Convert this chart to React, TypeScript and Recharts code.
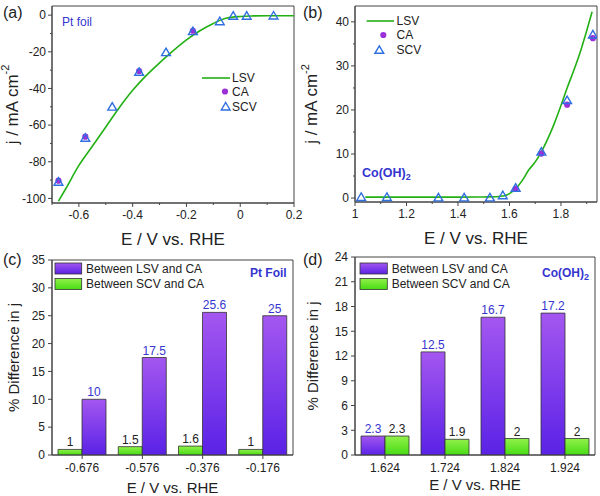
import React from 'react';
import {
  ComposedChart, Line, Scatter, XAxis, YAxis, CartesianGrid, Legend,
  BarChart, Bar, LabelList, Label,
} from 'recharts';

const FONT = '"Liberation Sans", Arial, sans-serif';
const AXIS = '#444';
const BLUE_TEXT = '#3535d0';
const LSV_GREEN = '#22b014';
const CA_PURPLE = '#9b30d9';
const SCV_BLUE = '#2f6fe0';

// (a) Pt foil, HER
const lsvPtE = [-0.676, -0.65, -0.6, -0.55, -0.5, -0.45, -0.4, -0.35, -0.3, -0.25, -0.2, -0.15, -0.1, -0.05, 0, 0.05, 0.1, 0.2];
const lsvPtJ = [-101.5, -95, -82, -71.5, -61, -50.5, -41, -33, -26, -19.5, -13.5, -8.5, -4.5, -1.6, -0.7, -0.4, -0.3, -0.3];
const scvPtE = [-0.676, -0.576, -0.476, -0.376, -0.276, -0.176, -0.076, -0.026, 0.024, 0.124];
const scvPtJ = [-91, -67, -50, -31, -20.3, -8.8, -3.4, -0.4, -0.4, -0.3];
const caPtE = [-0.676, -0.576, -0.376, -0.176];
const caPtJ = [-90.3, -66.3, -30.5, -8.5];
const ptXTicks = [-0.7, -0.6, -0.5, -0.4, -0.3, -0.2, -0.1, 0, 0.1, 0.2];
const ptXMajor = [-0.6, -0.4, -0.2, 0, 0.2];
const ptYTicks = [-100, -90, -80, -70, -60, -50, -40, -30, -20, -10, 0];
const ptYMajor = [-100, -80, -60, -40, -20, 0];

// (b) Co(OH)2, OER
const lsvCoE = [1.04, 1.1, 1.2, 1.3, 1.4, 1.5, 1.55, 1.58, 1.6, 1.624, 1.65, 1.674, 1.7, 1.724, 1.75, 1.774, 1.8, 1.824, 1.85, 1.874, 1.9, 1.921];
const lsvCoJ = [0.2, 0.2, 0.2, 0.2, 0.2, 0.25, 0.3, 0.5, 1.0, 2.1, 4, 6.3, 8.2, 10.5, 13.6, 16.9, 21, 25, 29, 33, 38, 42.3];
const scvCoE = [1.024, 1.124, 1.324, 1.424, 1.524, 1.574, 1.624, 1.724, 1.824, 1.924];
const scvCoJ = [0.2, 0.2, 0.1, 0.1, 0.1, 0.6, 2.3, 10.5, 22.2, 37.1];
const caCoE = [1.624, 1.724, 1.824, 1.924];
const caCoJ = [2.1, 10.1, 21.2, 36.3];
const coXTicks = [1, 1.1, 1.2, 1.3, 1.4, 1.5, 1.6, 1.7, 1.8, 1.9];
const coXMajor = [1, 1.2, 1.4, 1.6, 1.8];
const coYTicks = [0, 5, 10, 15, 20, 25, 30, 35, 40];
const coYMajor = [0, 10, 20, 30, 40];

// (c) % difference, Pt foil
const ptPotentials = ['-0.676', '-0.576', '-0.376', '-0.176'];
const ptLsvCa = [10, 17.5, 25.6, 25];
const ptScvCa = [1, 1.5, 1.6, 1];

// (d) % difference, Co(OH)2
const coPotentials = ['1.624', '1.724', '1.824', '1.924'];
const coLsvCa = [2.3, 12.5, 16.7, 17.2];
const coScvCa = [2.3, 1.9, 2, 2];

const pts = (xs: number[], ys: number[]) => xs.map((x, i) => ({ x, y: ys[i] }));
const isMajor = (list: number[], v: number) => list.some((m) => Math.abs(m - v) < 1e-9);

const tickStyle = { fontSize: 12, fill: '#222', fontFamily: FONT };
const TS = 4; // tick length
const XM = 3; // x tick margin
const YM = 2; // y tick margin

// bottom axis tick with major/minor marks (outward)
const xTick = (majors: number[]) => (p: any) => {
  const v = p.payload.value;
  const major = isMajor(majors, v);
  const ay = p.y - TS - XM;
  return (
    <g>
      <line x1={p.x} x2={p.x} y1={ay} y2={ay + (major ? TS : TS / 2)} stroke={AXIS} />
      {major && <text x={p.x} y={p.y} dy="0.71em" textAnchor="middle" {...tickStyle}>{String(v)}</text>}
    </g>
  );
};

// left axis tick with major/minor marks (outward)
const yTick = (majors: number[]) => (p: any) => {
  const v = p.payload.value;
  const major = isMajor(majors, v);
  const ax = p.x + TS + YM;
  return (
    <g>
      <line x1={ax} x2={ax - (major ? TS : TS / 2)} y1={p.y} y2={p.y} stroke={AXIS} />
      {major && <text x={p.x} y={p.y} dy="0.355em" textAnchor="end" {...tickStyle}>{String(v)}</text>}
    </g>
  );
};

const CaDot = (p: any) => <circle cx={p.cx} cy={p.cy} r={3.1} fill={CA_PURPLE} />;
const ScvTri = (p: any) => (
  <path
    d={`M${p.cx},${p.cy - 4.2}L${p.cx + 4.4},${p.cy + 3.3}L${p.cx - 4.4},${p.cy + 3.3}Z`}
    fill="none" stroke={SCV_BLUE} strokeWidth={1.4}
  />
);

const xTitle = (dy: number, size: number) => (props: any) => {
  const { x, y, width } = props.viewBox;
  return (
    <text x={x + width / 2} y={y + dy} textAnchor="middle" fontSize={size} fontFamily={FONT} fill="#222">
      E / V vs. RHE
    </text>
  );
};

const jTitle = (dx: number) => (props: any) => {
  const { x, y, height } = props.viewBox;
  return (
    <text transform={`translate(${x + dx},${y + height / 2}) rotate(-90)`} textAnchor="middle"
      dominantBaseline="central" fontSize={17} fontFamily={FONT} fill="#222">
      j / mA cm<tspan dy={-7} fontSize={11}>-2</tspan>
    </text>
  );
};

const pctTitle = (dx: number) => (props: any) => {
  const { x, y, height } = props.viewBox;
  return (
    <text transform={`translate(${x + dx},${y + height / 2}) rotate(-90)`} textAnchor="middle"
      dominantBaseline="central" fontSize={15} fontFamily={FONT} fill="#222">
      % Difference in j
    </text>
  );
};

const frameH = ({ offset }: any) => [offset.top, offset.top + offset.height];
const frameV = ({ offset }: any) => [offset.left, offset.left + offset.width];

// legend for the j-E panels: line, dot, triangle
const curveLegend = (lineX: number[], dotX: number, triX: number, textX: number, rows: number[]) => () => (
  <svg width={80} height={60} style={{ overflow: 'visible' }}>
    <line x1={lineX[0]} x2={lineX[1]} y1={rows[0]} y2={rows[0]} stroke={LSV_GREEN} strokeWidth={1.6} />
    <circle cx={dotX} cy={rows[1]} r={3.1} fill={CA_PURPLE} />
    <path d={`M${triX},${rows[2] - 4.2}L${triX + 4.4},${rows[2] + 3.3}L${triX - 4.4},${rows[2] + 3.3}Z`}
      fill="none" stroke={SCV_BLUE} strokeWidth={1.4} />
    {['LSV', 'CA', 'SCV'].map((t, i) => (
      <text key={t} x={textX} y={rows[i]} dominantBaseline="central" fontSize={12} fontFamily={FONT} fill="#222">{t}</text>
    ))}
  </svg>
);

const barLegend = (sw: number, textX: number, purpleId: string, greenId: string) => () => (
  <svg width={160} height={30} style={{ overflow: 'visible' }}>
    <rect x={0} y={0} width={sw} height={11} fill={`url(#${purpleId})`} stroke="#333" strokeWidth={0.8} />
    <rect x={0} y={15.5} width={sw} height={11} fill={`url(#${greenId})`} stroke="#333" strokeWidth={0.8} />
    <text x={textX} y={5.8} dominantBaseline="central" fontSize={12} fontFamily={FONT} fill="#222">Between LSV and CA</text>
    <text x={textX} y={21} dominantBaseline="central" fontSize={12} fontFamily={FONT} fill="#222">Between SCV and CA</text>
  </svg>
);

const Grads = ({ p, g }: { p: string; g: string }) => (
  <defs>
    <linearGradient id={p} x1="0" y1="0" x2="0" y2="1">
      <stop offset="0%" stopColor="#a457f0" />
      <stop offset="100%" stopColor="#5a22e6" />
    </linearGradient>
    <linearGradient id={g} x1="0" y1="0" x2="0" y2="1">
      <stop offset="0%" stopColor="#92f04a" />
      <stop offset="100%" stopColor="#46dc14" />
    </linearGradient>
  </defs>
);

const note = (left: number, top: number, size: number, bold: boolean, color: string, children: React.ReactNode) => (
  <div style={{ position: 'absolute', left, top, fontSize: size, fontWeight: bold ? 'bold' : 'normal', color, fontFamily: FONT, lineHeight: 1, whiteSpace: 'nowrap' }}>
    {children}
  </div>
);

export default function App() {
  const ptBars = ptPotentials.map((e, i) => ({ e, lsv: ptLsvCa[i], scv: ptScvCa[i] }));
  const coBars = coPotentials.map((e, i) => ({ e, lsv: coLsvCa[i], scv: coScvCa[i] }));

  return (
    <div style={{ position: 'absolute', left: 0, top: 0, width: 600, height: 496, background: '#fff', fontFamily: FONT }}>
      {/* (a) */}
      <div style={{ position: 'absolute', left: 0, top: 0 }}>
        <ComposedChart width={312} height={250} margin={{ top: 6, right: 18, left: 4, bottom: 0 }}>
          <CartesianGrid stroke={AXIS} horizontalCoordinatesGenerator={frameH} verticalCoordinatesGenerator={frameV} />
          <XAxis type="number" dataKey="x" domain={[-0.7, 0.2]} ticks={ptXTicks} allowDataOverflow
            interval={0} tick={xTick(ptXMajor)} tickLine={false} tickSize={TS} tickMargin={XM} stroke={AXIS} height={47}>
            <Label content={xTitle(41.5, 17)} />
          </XAxis>
          <YAxis type="number" dataKey="y" domain={[-102.5, 5]} ticks={ptYTicks} allowDataOverflow
            interval={0} tick={yTick(ptYMajor)} tickLine={false} tickSize={TS} tickMargin={YM} stroke={AXIS} width={48}>
            <Label content={jTitle(8)} />
          </YAxis>
          <Legend layout="horizontal" verticalAlign="middle" align="center"
            wrapperStyle={{ left: 195, top: 68, width: 80, height: 60 }}
            content={curveLegend([7, 35], 30, 30.7, 37, [10, 23.5, 38.7])} />
          <Line data={pts(lsvPtE, lsvPtJ)} dataKey="y" type="monotone" stroke={LSV_GREEN} strokeWidth={1.6} dot={false} isAnimationActive={false} />
          <Scatter data={pts(caPtE, caPtJ)} dataKey="y" shape={CaDot} isAnimationActive={false} />
          <Scatter data={pts(scvPtE, scvPtJ)} dataKey="y" shape={ScvTri} isAnimationActive={false} />
        </ComposedChart>
      </div>

      {/* (b) */}
      <div style={{ position: 'absolute', left: 300, top: 0 }}>
        <ComposedChart width={300} height={250} margin={{ top: 6, right: 3, left: 4, bottom: 0 }}>
          <CartesianGrid stroke={AXIS} horizontalCoordinatesGenerator={frameH} verticalCoordinatesGenerator={frameV} />
          <XAxis type="number" dataKey="x" domain={[1, 1.94]} ticks={coXTicks} allowDataOverflow
            interval={0} tick={xTick(coXMajor)} tickLine={false} tickSize={TS} tickMargin={XM} stroke={AXIS} height={48}>
            <Label content={xTitle(42, 17)} />
          </XAxis>
          <YAxis type="number" dataKey="y" domain={[-0.9, 43.6]} ticks={coYTicks} allowDataOverflow
            interval={0} tick={yTick(coYMajor)} tickLine={false} tickSize={TS} tickMargin={YM} stroke={AXIS} width={51}>
            <Label content={jTitle(7.7)} />
          </YAxis>
          <Legend layout="horizontal" verticalAlign="middle" align="center"
            wrapperStyle={{ left: 60, top: 10, width: 80, height: 60 }}
            content={curveLegend([6.7, 34], 23.3, 19.3, 36.5, [11, 25, 40])} />
          <Line data={pts(lsvCoE, lsvCoJ)} dataKey="y" type="monotone" stroke={LSV_GREEN} strokeWidth={1.6} dot={false} isAnimationActive={false} />
          <Scatter data={pts(caCoE, caCoJ)} dataKey="y" shape={CaDot} isAnimationActive={false} />
          <Scatter data={pts(scvCoE, scvCoJ)} dataKey="y" shape={ScvTri} isAnimationActive={false} />
        </ComposedChart>
      </div>

      {/* (c) */}
      <div style={{ position: 'absolute', left: 0, top: 250 }}>
        <BarChart width={300} height={246} data={ptBars} margin={{ top: 10, right: 7, left: 4, bottom: 0 }} barGap={0} barSize={24}>
          <Grads p="purpC" g="greenC" />
          <CartesianGrid stroke={AXIS} horizontalCoordinatesGenerator={frameH} verticalCoordinatesGenerator={frameV} />
          <XAxis dataKey="e" interval={0} tick={tickStyle} tickSize={4} tickMargin={4} stroke={AXIS} height={41}>
            <Label content={xTitle(37.5, 15)} />
          </XAxis>
          <YAxis domain={[0, 35]} ticks={[0, 5, 10, 15, 20, 25, 30, 35]} allowDataOverflow interval={0}
            tick={tickStyle} tickSize={4} tickMargin={3} stroke={AXIS} width={48}>
            <Label content={pctTitle(9)} />
          </YAxis>
          <Legend layout="horizontal" verticalAlign="middle" align="center"
            wrapperStyle={{ left: 55, top: 12.5, width: 160, height: 30 }}
            content={barLegend(26.7, 31, 'purpC', 'greenC')} />
          <Bar dataKey="scv" fill="url(#greenC)" stroke="#333" strokeWidth={0.8} isAnimationActive={false}>
            <LabelList dataKey="scv" position="top" offset={3} fill="#222" fontSize={12} fontFamily={FONT} />
          </Bar>
          <Bar dataKey="lsv" fill="url(#purpC)" stroke="#333" strokeWidth={0.8} isAnimationActive={false}>
            <LabelList dataKey="lsv" position="top" offset={3} fill={BLUE_TEXT} fontSize={12} fontFamily={FONT} />
          </Bar>
        </BarChart>
      </div>

      {/* (d) */}
      <div style={{ position: 'absolute', left: 300, top: 250 }}>
        <BarChart width={300} height={246} data={coBars} margin={{ top: 7, right: 5, left: 4, bottom: 0 }} barGap={0} barSize={24}>
          <Grads p="purpD" g="greenD" />
          <CartesianGrid stroke={AXIS} horizontalCoordinatesGenerator={frameH} verticalCoordinatesGenerator={frameV} />
          <XAxis dataKey="e" interval={0} tick={tickStyle} tickSize={4} tickMargin={4} stroke={AXIS} height={41}>
            <Label content={xTitle(35, 15)} />
          </XAxis>
          <YAxis domain={[0, 24]} ticks={[0, 3, 6, 9, 12, 15, 18, 21, 24]} allowDataOverflow interval={0}
            tick={tickStyle} tickSize={4} tickMargin={3} stroke={AXIS} width={51}>
            <Label content={pctTitle(8)} />
          </YAxis>
          <Legend layout="horizontal" verticalAlign="middle" align="center"
            wrapperStyle={{ left: 60, top: 12.5, width: 160, height: 30 }}
            content={barLegend(27.3, 31.7, 'purpD', 'greenD')} />
          <Bar dataKey="lsv" fill="url(#purpD)" stroke="#333" strokeWidth={0.8} isAnimationActive={false}>
            <LabelList dataKey="lsv" position="top" offset={3} fill={BLUE_TEXT} fontSize={12} fontFamily={FONT} />
          </Bar>
          <Bar dataKey="scv" fill="url(#greenD)" stroke="#333" strokeWidth={0.8} isAnimationActive={false}>
            <LabelList dataKey="scv" position="top" offset={3} fill="#222" fontSize={12} fontFamily={FONT} />
          </Bar>
        </BarChart>
      </div>

      {note(3, 5, 16, false, '#222', '(a)')}
      {note(303, 5, 16, false, '#222', '(b)')}
      {note(3, 252, 16, false, '#222', '(c)')}
      {note(303, 252, 16, false, '#222', '(d)')}
      {note(62, 16, 12, false, BLUE_TEXT, 'Pt foil')}
      {note(362, 167, 12.5, true, BLUE_TEXT, <>Co(OH)<sub style={{ fontSize: 9, verticalAlign: -3 }}>2</sub></>)}
      {note(250, 267, 12, true, BLUE_TEXT, 'Pt Foil')}
      {note(542, 267, 12, true, BLUE_TEXT, <>Co(OH)<sub style={{ fontSize: 9, verticalAlign: -3 }}>2</sub></>)}
    </div>
  );
}
